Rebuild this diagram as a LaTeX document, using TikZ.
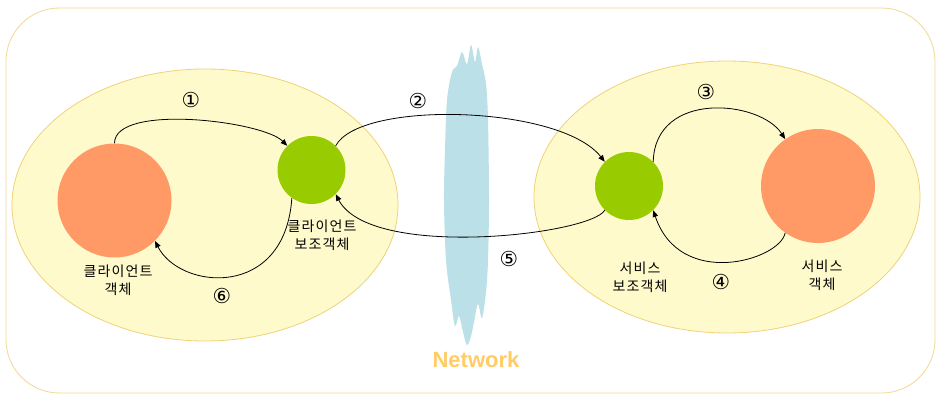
\documentclass[tikz,border=0pt]{standalone}
\usepackage{fontspec}
\setmainfont{Liberation Sans}
\newfontfamily\kr[LetterSpace=8]{Noto Sans CJK KR}
\newfontfamily\sym{DejaVu Sans}
\usetikzlibrary{arrows.meta}
\definecolor{frameC}{RGB}{246,214,150}
\definecolor{ellFill}{RGB}{255,250,204}
\definecolor{ellLine}{RGB}{240,210,120}
\definecolor{orangeC}{RGB}{255,153,102}
\definecolor{greenC}{RGB}{153,204,0}
\definecolor{netC}{RGB}{188,224,232}
\definecolor{netText}{RGB}{255,204,102}
\tikzset{
  zone/.style={draw=ellLine, fill=ellFill, line width=0.6pt},
  bigobj/.style={circle, fill=orangeC, minimum size=85.5pt, inner sep=0pt},
  helper/.style={circle, fill=greenC, minimum size=51pt, inner sep=0pt},
  lbl/.style={font=\kr\fontsize{10.5}{13.5}\selectfont, align=center, inner sep=0pt},
  num/.style={font=\sym\fontsize{15.5}{16}\selectfont, inner sep=0pt},
  flow/.style={draw=black, line width=0.6pt, -{Triangle[length=5pt,width=4pt]}}
}
\begin{document}
\begin{tikzpicture}[x=0.75pt,y=-0.75pt]
\useasboundingbox (0,0) rectangle (943,407);
\fill[white] (0,0) rectangle (943,407);
\draw[frameC, line width=0.6pt, rounded corners=40pt] (6,8) rectangle (935,393);
% zones
\draw[zone] (205,205) ellipse [x radius=193, y radius=136];
\draw[zone] (727,197) ellipse [x radius=193, y radius=136];
% network cloud
\fill[netC] plot[smooth cycle, tension=0.55] coordinates {
 (471,45) (475,62) (478,47) (482,64) (486,84) (488,120) (489,200) (488,260)
 (486,292) (482,318) (478,304) (474,322) (471,336) (467,345) (463,332)
 (459,316) (455,326) (451,300) (446,260) (444,200) (445,150) (447,100)
 (452,72) (457,66) (462,52) (467,64)};
\node[font=\fontsize{16.5}{19}\selectfont\bfseries, text=netText, inner sep=0pt] (net) at (476,360) {Network};
% objects
\node[bigobj] (cobj) at (114.5,200.5) {};
\node[helper] (chelp) at (311.5,170) {};
\node[helper] (shelp) at (629,186) {};
\node[bigobj] (sobj) at (818,186) {};
% labels
\node[lbl] (cobjl) at (118,280) {클라이언트\\객체};
\node[lbl] (chelpl) at (322,235) {클라이언트\\보조객체};
\node[lbl] (shelpl) at (640,277) {서비스\\보조객체};
\node[lbl] (sobjl) at (822,275) {서비스\\객체};
% numbers
\node[num] (n1) at (191,100) {①};
\node[num] (n2) at (418,101) {②};
\node[num] (n3) at (706,92) {③};
\node[num] (n4) at (721,282) {④};
\node[num] (n5) at (509,259) {⑤};
\node[num] (n6) at (222,296) {⑥};
% connectors
\draw[flow] (cobj.90) .. controls +(0,-40) and +(-25,-25) .. (chelp.135);
\draw[flow] (chelp.45) .. controls (360,100) and (560,105) .. (shelp.135);
\draw[flow] (shelp.45) .. controls (655,90) and (760,100) .. (sobj.125);
\draw[flow] (sobj.235) .. controls (780,260) and (680,290) .. (shelp.315);
\draw[flow] (shelp.225) .. controls (590,235) and (370,260) .. (chelp.315);
\draw[flow] (chelp.235) .. controls (285,300) and (180,290) .. (cobj.315);
\end{tikzpicture}
\end{document}
